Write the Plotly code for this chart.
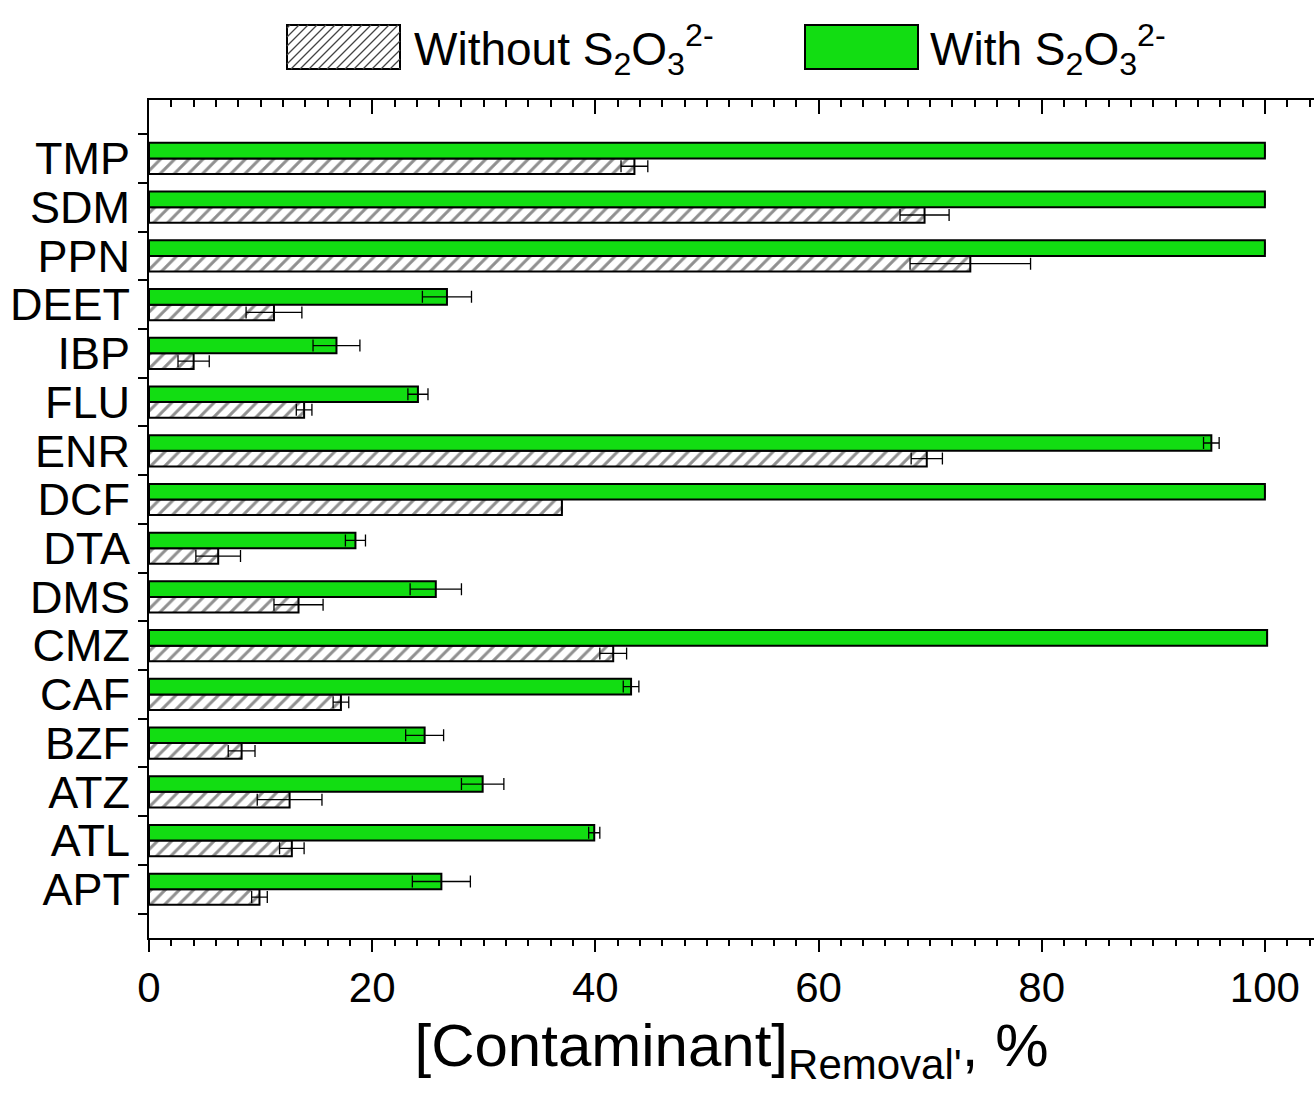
import plotly.graph_objects as go

categories = ["APT", "ATL", "ATZ", "BZF", "CAF", "CMZ", "DMS", "DTA", "DCF",
              "ENR", "FLU", "IBP", "DEET", "PPN", "SDM", "TMP"]

without_vals = [9.9, 12.8, 12.6, 8.3, 17.2, 41.6, 13.4, 6.2, 37.0,
                69.7, 13.9, 4.0, 11.2, 73.6, 69.5, 43.5]
without_err = [0.7, 1.1, 2.9, 1.2, 0.7, 1.2, 2.2, 2.0, 0.0,
               1.4, 0.7, 1.4, 2.5, 5.4, 2.2, 1.2]

with_vals = [26.2, 39.9, 29.9, 24.7, 43.2, 100.2, 25.7, 18.5, 100.0,
             95.2, 24.1, 16.8, 26.7, 100.0, 100.0, 100.0]
with_err = [2.6, 0.5, 1.9, 1.7, 0.7, 0.0, 2.3, 0.9, 0.0,
            0.7, 0.9, 2.1, 2.2, 0.0, 0.0, 0.0]

x_ticks = [0, 20, 40, 60, 80, 100]

series_names = ["Without S<sub>2</sub>O<sub>3</sub><sup>2-</sup>",
                "With S<sub>2</sub>O<sub>3</sub><sup>2-</sup>"]

FONT = "Liberation Sans, Arial, sans-serif"
GREEN = "#12dd12"

# layout geometry (pixels)
W, H = 1314, 1113
ML, MR, MT, MB = 149, 0, 100, 175
PW, PH = W - ML - MR, H - MT - MB


def px2paper(px, py):
    return (px - ML) / PW, 1 - (py - MT) / PH


fig = go.Figure()

fig.add_trace(go.Bar(
    name=series_names[0], showlegend=False,
    y=categories, x=without_vals, orientation="h",
    marker=dict(color="white", line=dict(color="black", width=2),
                pattern=dict(shape="/", fgcolor="#222222", bgcolor="white",
                             size=10, solidity=0.3)),
    error_x=dict(type="data", array=without_err, symmetric=True,
                 color="black", thickness=1.3, width=6),
))

fig.add_trace(go.Bar(
    name=series_names[1], showlegend=False,
    y=categories, x=with_vals, orientation="h",
    marker=dict(color=GREEN, line=dict(color="black", width=2)),
    error_x=dict(type="data", array=with_err, symmetric=True,
                 color="black", thickness=1.3, width=6),
))

# invisible trace so the top (inward-tick) axis is drawn
fig.add_trace(go.Scatter(
    x=with_vals, y=categories, xaxis="x2", mode="markers",
    marker=dict(opacity=0), showlegend=False, hoverinfo="skip",
))

# ---- custom legend (large swatches) ----
shapes = []
annotations = []
sw_w, sw_h = 113, 44
legend_items = [
    (287, "hatch", series_names[0], 412),
    (805, "green", series_names[1], 928),
]
top_y = 25
for sx, kind, label, tx in legend_items:
    x0, y0 = px2paper(sx, top_y + sw_h)
    x1, y1 = px2paper(sx + sw_w, top_y)
    fill = "white" if kind == "hatch" else GREEN
    shapes.append(dict(type="rect", xref="paper", yref="paper",
                       x0=x0, x1=x1, y0=y0, y1=y1, fillcolor=fill,
                       line=dict(color="black", width=2), layer="above"))
    if kind == "hatch":
        step = 9
        c = -sw_h + 3
        while c < sw_w:
            u0 = max(0, c)
            u1 = min(sw_w, sw_h + c)
            if u1 > u0:
                pa = px2paper(sx + u0, top_y + sw_h - (u0 - c))
                pb = px2paper(sx + u1, top_y + sw_h - (u1 - c))
                shapes.append(dict(type="line", xref="paper", yref="paper",
                                   x0=pa[0], y0=pa[1], x1=pb[0], y1=pb[1],
                                   line=dict(color="#444444", width=1.2),
                                   layer="above"))
            c += step
    ax, ay = px2paper(tx, top_y + sw_h / 2 + 2)
    annotations.append(dict(text=label, xref="paper", yref="paper",
                            x=ax, y=ay, xanchor="left", yanchor="middle",
                            showarrow=False,
                            font=dict(size=46, family=FONT, color="black")))

xr = [0, 104.4]

fig.update_layout(
    width=W, height=H,
    margin=dict(l=ML, r=MR, t=MT, b=MB),
    paper_bgcolor="white", plot_bgcolor="white",
    barmode="group", bargap=0.36, bargroupgap=0.0,
    font=dict(family=FONT, color="black"),
    showlegend=False,
    shapes=shapes, annotations=annotations,
    xaxis=dict(
        range=xr, tickvals=x_ticks, ticktext=[str(v) for v in x_ticks],
        showgrid=False, zeroline=False,
        showline=True, linecolor="black", linewidth=2,
        ticks="outside", ticklen=12, tickwidth=2, tickcolor="black",
        minor=dict(dtick=2, ticks="outside", ticklen=6, tickwidth=1.5,
                   tickcolor="black", showgrid=False),
        tickfont=dict(size=42, family=FONT),
        title=dict(text="[Contaminant]<sub>Removal'</sub>, %",
                   font=dict(size=60, family=FONT), standoff=14),
    ),
    xaxis2=dict(
        overlaying="x", side="top", range=xr, tickvals=x_ticks,
        showticklabels=False, showgrid=False, zeroline=False,
        showline=True, linecolor="black", linewidth=2,
        ticks="inside", ticklen=14, tickwidth=2, tickcolor="black",
        minor=dict(dtick=2, ticks="inside", ticklen=7, tickwidth=1.5,
                   tickcolor="black", showgrid=False),
    ),
    yaxis=dict(
        type="category", categoryorder="array", categoryarray=categories,
        range=[-1.0, 16.2], tickson="boundaries", dtick=1, tick0=0,
        tickmode="linear",
        showgrid=False, zeroline=False,
        showline=True, linecolor="black", linewidth=2,
        ticks="outside", ticklen=9, tickwidth=2, tickcolor="black",
        tickfont=dict(size=45, family=FONT), ticklabelstandoff=8,
    ),
)

fig.write_html("out.html")
